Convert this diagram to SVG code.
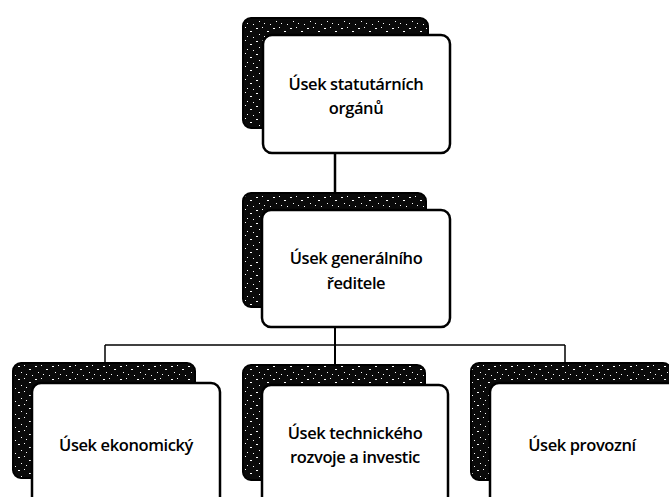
<svg xmlns="http://www.w3.org/2000/svg" width="669" height="497" viewBox="0 0 669 497">
<style>
.sh{fill:url(#noise);stroke:#000;stroke-width:2}
.bx{fill:#fff;stroke:#000;stroke-width:2.5}
.t{font-family:"Open Sans","Noto Sans",sans-serif;font-size:16.5px;font-weight:600;letter-spacing:-0.4px;fill:#000;text-anchor:middle}
.c{stroke:#000;fill:none}
</style>
<defs>
<pattern id="noise" width="17" height="13" patternUnits="userSpaceOnUse">
<rect width="17" height="13" fill="#0a0a0a"/>
<rect x="1" y="2" width="2" height="1" fill="#fff"/>
<rect x="7" y="1" width="1" height="1" fill="#fff"/>
<rect x="12" y="5" width="2" height="1" fill="#fff"/>
<rect x="4" y="8" width="1" height="1" fill="#fff"/>
<rect x="9" y="10" width="1" height="1" fill="#fff"/>
<rect x="15" y="11" width="1" height="1" fill="#fff"/>
</pattern>
</defs>
<g id="connectors">
<line class="c" x1="335" y1="153" x2="335" y2="193" stroke-width="2.5"/>
<line class="c" x1="335" y1="327" x2="335" y2="365" stroke-width="2"/>
<line class="c" x1="105" y1="345" x2="565" y2="345" stroke-width="1.5"/>
<line class="c" x1="105" y1="345" x2="105" y2="363" stroke-width="1.5"/>
<line class="c" x1="565" y1="345" x2="565" y2="363" stroke-width="1.5"/>
</g>
<g id="n1">
<rect class="sh" x="243" y="18" width="185" height="110" rx="8"/>
<rect class="bx" x="263" y="35" width="187" height="118" rx="9"/>
<text class="t" x="356" y="90">Úsek statutárních</text>
<text class="t" x="356" y="114">orgánů</text>
</g>
<g id="n2">
<rect class="sh" x="243" y="193" width="183" height="114" rx="8"/>
<rect class="bx" x="262" y="210" width="188" height="117" rx="9"/>
<text class="t" x="356" y="264">Úsek generálního</text>
<text class="t" x="356" y="289">ředitele</text>
</g>
<g id="n3">
<rect class="sh" x="13" y="363" width="182" height="115" rx="8"/>
<rect class="bx" x="32" y="383" width="188" height="130" rx="9"/>
<text class="t" x="126" y="451">Úsek ekonomický</text>
</g>
<g id="n4">
<rect class="sh" x="243" y="365" width="182" height="115" rx="8"/>
<rect class="bx" x="262" y="385" width="186" height="130" rx="9"/>
<text class="t" x="355" y="439">Úsek technického</text>
<text class="t" x="355" y="463">rozvoje a investic</text>
</g>
<g id="n5">
<rect class="sh" x="471" y="363" width="200" height="117" rx="8"/>
<rect class="bx" x="490" y="383" width="190" height="130" rx="9"/>
<text class="t" x="582" y="451">Úsek provozní</text>
</g>
</svg>
